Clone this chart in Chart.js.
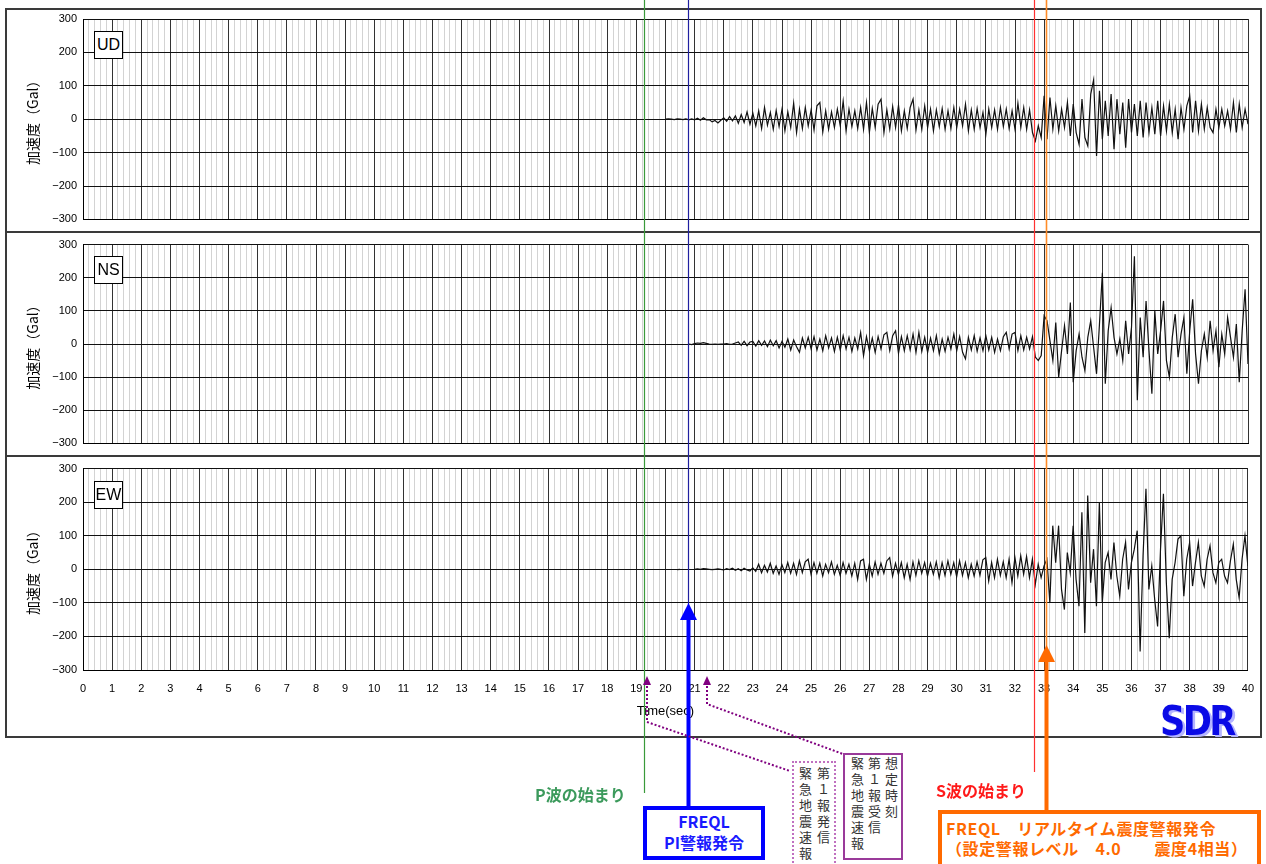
<!DOCTYPE html>
<html lang="ja">
<head>
<meta charset="utf-8">
<title>加速度波形 UD / NS / EW</title>
<script src="https://cdn.jsdelivr.net/npm/chart.js@4.4.1/dist/chart.umd.min.js"></script>
<style>
  body { margin:0; background:#fff; width:1266px; height:864px; overflow:hidden; position:relative;
         font-family:"Noto Sans CJK JP", "Liberation Sans", sans-serif; }
  .abs { position:absolute; box-sizing:border-box; }
  #frame { left:5px; top:8px; width:1257px; height:730px; border:2px solid #3a3a3a; }
  .sep { left:5px; width:1257px; height:2px; background:#3a3a3a; }
  canvas.panel { position:absolute; left:0; }
  #overlay { position:absolute; left:0; top:0; pointer-events:none; }
  .chan { left:94px; width:29px; height:28px; border:1px solid #000; background:#fff;
          font:16px "Liberation Sans", Arial, sans-serif; line-height:26px; text-align:center; }
  .evtxt { font-weight:700; font-size:16px; white-space:nowrap; }
  .vbox { writing-mode:vertical-rl; font-size:13px; color:#333; background:#fff; white-space:nowrap; }
  #logo { left:1160px; top:698px; font:bold 40px "DejaVu Sans", sans-serif; color:#0a0ae6;
          letter-spacing:-3px; transform:scaleX(0.88); transform-origin:left top;
          text-shadow:3px 2px 0 #b4b4ff; }
</style>
</head>
<body>
<div id="frame" class="abs"></div>
<div class="abs sep" style="top:231px"></div>
<div class="abs sep" style="top:455px"></div>

<canvas id="cUD" class="panel" width="1266" height="232" style="top:0"></canvas>
<canvas id="cNS" class="panel" width="1266" height="224" style="top:232px"></canvas>
<canvas id="cEW" class="panel" width="1266" height="280" style="top:456px"></canvas>

<div class="abs chan" style="top:31px">UD</div>
<div class="abs chan" style="top:256px">NS</div>
<div class="abs chan" style="top:481px">EW</div>

<div id="logo" class="abs">SDR</div>

<canvas id="overlay" width="1266" height="864"></canvas>

<div class="abs evtxt" style="left:535px; top:782px; color:#3c9a5c">P波の始まり</div>
<div class="abs evtxt" style="left:936px; top:778px; color:#ff1a1a">S波の始まり</div>

<div class="abs" style="left:643px; top:806px; width:122px; height:54px; border:4px solid #0000ff; background:#fff;
     color:#1a1aff; font-weight:700; font-size:16px; line-height:21px; text-align:center; padding-top:1px">FREQL<br>PI警報発令</div>

<div class="abs" style="left:938px; top:810px; width:323px; height:64px; border:4px solid #ff6a00; background:#fff;
     color:#ff6a00; font-weight:700; font-size:16px; line-height:20px; padding:4px 0 0 4px; letter-spacing:0.6px; white-space:nowrap">FREQL　リアルタイム震度警報発令<br>（設定警報レベル　4.0　　震度4相当）</div>

<div class="abs vbox" style="left:792px; top:761px; width:44px; height:110px; border:2px dotted #c070c0;
     line-height:18px; letter-spacing:3px; padding:4px 2px 0 0">第１報発信<br>緊急地震速報</div>
<div class="abs vbox" style="left:843px; top:753px; width:60px; height:107px; border:2px solid #9a3a9a;
     line-height:17px; letter-spacing:3px; padding:2px 1px 0 0">想定時刻<br>第１報受信<br>緊急地震速報</div>

<script>
// sampling of the traces: first sample at 20.0 s, one value every 0.1 s (Gal)
const sampleStart = 20.0;
const sampleStep = 0.1;

const udValues = [
  0, 1, 0, -1, 1, 0, -1, 1, -2, 1,
  -2, 3, -3, 4, -2, -1, -8, -4, -11, -3,
  4, -6, 8, -5, 10, -12, 14, -10, 22, -15,
  18, -20, 25, -28, 35, -18, 20, -30, 26, -22,
  30, -35, 22, -25, 48, -40, 30, -28, 35, -20,
  28, -32, 40, 50, -38, 25, -30, 22, -25, 30,
  -20, 54, -35, 30, -22, 25, -28, 35, -30, 50,
  -40, 32, -25, 45, 60, -40, 28, -30, 38, -25,
  42, -35, 25, -28, 35, 60, -32, 28, -30, 40,
  -25, 30, -35, 28, -22, 32, -30, 25, -28, 35,
  -25, 30, -20, 45, -35, 28, -30, 32, -25, 20,
  -45, 30, -25, 28, -30, 35, -22, 30, -28, 25,
  -30, 48, -25, 35, -30, 28, -40, -65, -20, -55,
  70, -60, 65, -30, 40, -35, 30, -25, 50, -50,
  45, -40, -75, 60, -55, -80, 75, 118, -110, 85,
  -60, 55, -50, 75, -90, 60, -45, 50, -85, 60,
  -40, 45, -50, 55, -55, 50, -40, 35, -45, 55,
  -50, 40, -35, 45, -40, 30, -60, 35, -30, 40,
  70, -40, 55, -35, 45, -30, 35, -25, -40, 30,
  -25, 30, -20, 25, -30, 50, -40, 45, -25, 30,
  -15
];

const nsValues = [
  null, null, null, null, null, null, null, null, 0, -2,
  1, 3, 2, 4, 2, 0, -1, 0, -1, 0,
  0, 1, -1, 0, 3, 6, -4, 8, -5, 6,
  8, -6, 10, -4, 9, -8, 12, -5, 10, -12,
  8, -10, 15, -18, 12, -8, -25, 18, -12, 20,
  -15, 22, -18, 15, -20, 25, -12, 18, -22, 20,
  -18, 25, -15, 20, -22, 18, -15, 35, -35, 22,
  -20, 18, -25, 22, -15, 28, 35, -20, 25, 40,
  -28, 22, -20, 25, -18, 30, -25, 35, -22, 20,
  -25, 18, -20, 25, -30, 15, -22, 20, -15, 30,
  -20, 22, -25, -45, 20, -18, 25, -22, 18, -20,
  25, -18, 20, -25, 15, -20, 22, 35, -15, 30,
  35, -20, 25, -18, 20, -15, 22, -40, -50, -35,
  85, 70, 10, -50, 65, -100, -20, 55, -30, 125,
  -115, -20, 30, -40, -80, 20, 70, -10, -90, 60,
  215, -120, 40, 110, 20, -30, 15, -50, 70, -30,
  50, 265, -170, 80, -40, 130, -20, -150, 100, -30,
  40, 130, -50, -100, 20, 90, -40, 30, 80, -90,
  40, 135, -30, -120, -20, 30, -40, 70, -20, 40,
  -70, 30, -30, 80, 20, -40, 60, -115, 40, 165,
  -60
];

const ewValues = [
  null, null, null, null, -1, 0, null, null, null, null,
  0, 1, 0, 2, 1, 0, -1, 0, 1, 0,
  -2, 2, -1, 3, -3, 2, -4, 3, -2, -5,
  4, -6, 15, -10, 12, -8, 18, -12, 10, -15,
  14, -10, 20, -12, 18, -15, 25, -10, 22, 30,
  -15, 20, -12, 18, -20, 15, -10, 22, -15, 12,
  -18, 20, -12, 15, -20, 18, -30, 25, 30, -30,
  15, -20, 22, -15, 18, -12, 25, 35, -20, 18,
  -15, 20, -25, 15, -30, 22, -18, 25, -12, 20,
  -20, 18, -15, 22, -25, 20, -18, 25, -15, 20,
  -22, 25, -18, 20, -25, 15, -20, 22, -18, 28,
  35, -35, 20, -25, 30, -18, 22, -25, 30, -40,
  35, -20, 40, -15, 38, -25, 30, -45, 15, -25,
  10, 30, -100, 130, 20, 130, -60, -120, 50, -10,
  130, -30, -110, 170, -190, 220, -40, 60, -110, 200,
  -100, 20, 50, -30, 80, -20, -80, 30, 80, -60,
  20, 60, 115, -245, 40, 240, -60, 10, -90, -170,
  60, 225, -40, -205, -30, 20, 90, 100, -80, 30,
  80, -50, 20, 80, -20, -50, 30, 70, -10, -40,
  20, 30, -20, -40, 25, 75, -30, -85, 30, 100,
  10
];

const yTickValues = [-300, -200, -100, 0, 100, 200, 300];
const xMin = 0, xMax = 40, xMinorStep = 0.2;

// event times (s): P arrival, FREQL PI alarm, S arrival, FREQL real-time intensity alarm
const eventNames = ['P波の始まり', 'FREQL PI警報発令', 'S波の始まり', 'FREQL リアルタイム震度警報発令'];
const eventTimes = [19.26, 20.77, 32.65, 33.07];
// earthquake early warning bulletin times (s)
const bulletinNames = ['緊急地震速報 第1報発信', '緊急地震速報 第1報受信 想定時刻'];
const bulletinTimes = [19.37, 21.42];

const isMajor = v => Math.abs(v - Math.round(v)) < 1e-6;

const yTitlePlugin = {
  id: 'yTitle',
  afterDraw(chart) {
    const { ctx, chartArea } = chart;
    ctx.save();
    ctx.translate(33, (chartArea.top + chartArea.bottom) / 2);
    ctx.rotate(-Math.PI / 2);
    ctx.font = '14px "Noto Sans CJK JP"';
    ctx.fillStyle = '#000';
    ctx.textAlign = 'center';
    ctx.textBaseline = 'middle';
    ctx.fillText('加速度（Gal）', 0, 0);
    ctx.restore();
  }
};

function makePanel(id, values, padTop, padBottom, showX) {
  const pts = values.map((v, i) => ({ x: +(sampleStart + i * sampleStep).toFixed(2), y: v }));
  return new Chart(document.getElementById(id), {
    type: 'line',
    data: { datasets: [{ data: pts, borderColor: '#111', borderWidth: 1.2, pointRadius: 0, tension: 0, spanGaps: false }] },
    options: {
      responsive: false, animation: false, events: [],
      layout: { padding: { left: 0, right: 18, top: padTop, bottom: padBottom } },
      plugins: { legend: { display: false }, tooltip: { enabled: false } },
      scales: {
        x: {
          type: 'linear', min: xMin, max: xMax,
          afterBuildTicks: s => {
            const t = [];
            for (let k = 0; k <= (xMax - xMin) / xMinorStep + 1e-6; k++) t.push({ value: +(xMin + k * xMinorStep).toFixed(2) });
            s.ticks = t;
          },
          afterFit: s => { s.height = showX ? 66 : 0; },
          ticks: {
            display: showX, autoSkip: false, maxRotation: 0, minRotation: 0, padding: 12,
            color: '#000', font: { family: '"Liberation Sans", Arial', size: 11 },
            callback: v => isMajor(v) ? String(Math.round(v)) : ''
          },
          grid: {
            drawTicks: false,
            color: c => (c.tick && isMajor(c.tick.value)) ? '#333' : '#d3d3d3',
            lineWidth: 1
          },
          border: { display: true, color: '#000' },
          title: {
            display: showX, text: 'Time(sec)', color: '#000',
            font: { family: '"Liberation Sans", Arial', size: 13 }, padding: { top: 0, bottom: 17 }
          }
        },
        y: {
          min: -300, max: 300,
          afterBuildTicks: s => { s.ticks = yTickValues.map(v => ({ value: v })); },
          afterFit: s => { s.width = 83; },
          ticks: {
            padding: 6, color: '#000', font: { family: '"Liberation Sans", Arial', size: 11 },
            callback: v => v < 0 ? '\u2212' + Math.abs(v) : String(v)
          },
          grid: { drawTicks: false, color: '#111', lineWidth: 1 },
          border: { display: true, color: '#000' }
        }
      }
    },
    plugins: [yTitlePlugin]
  });
}

const chartUD = makePanel('cUD', udValues, 19, 11, false);
const chartNS = makePanel('cNS', nsValues, 12, 10, false);
const chartEW = makePanel('cEW', ewValues, 12, 0, true);

// event marker lines and arrows drawn over the three panels, x from the shared time scale
const lineStyles = [
  { thin: '#3a9a3a', thinW: 1.2, end: 793 },
  { thin: '#2020a0', thinW: 1.2, tip: 603, base: 620, half: 8.5, thick: '#0000ff', end: 806 },
  { thin: '#ff3030', thinW: 1.2, end: 772 },
  { thin: '#ff8c28', thinW: 1.6, tip: 645, base: 662, half: 8.5, thick: '#ff6a00', end: 810 }
];
const bulletinPaths = [
  { bend: 722, to: [790, 771] },
  { bend: 704, to: [843, 754] }
];

function drawOverlay() {
  const xs = chartEW.scales.x;
  const ctx = document.getElementById('overlay').getContext('2d');
  const arrowUp = (px, tip, base, half, color) => {
    ctx.fillStyle = color;
    ctx.beginPath();
    ctx.moveTo(px, tip);
    ctx.lineTo(px + half, base);
    ctx.lineTo(px - half, base);
    ctx.closePath();
    ctx.fill();
  };
  eventTimes.forEach((t, i) => {
    const st = lineStyles[i];
    const px = Math.round(xs.getPixelForValue(t)) + 0.5;
    ctx.strokeStyle = st.thin;
    ctx.lineWidth = st.thinW;
    ctx.beginPath();
    ctx.moveTo(px, 0);
    ctx.lineTo(px, st.tip !== undefined ? st.tip + 4 : st.end);
    ctx.stroke();
    if (st.tip !== undefined) {
      arrowUp(px, st.tip, st.base, st.half, st.thick);
      ctx.strokeStyle = st.thick;
      ctx.lineWidth = 4;
      ctx.beginPath();
      ctx.moveTo(px, st.base - 1);
      ctx.lineTo(px, st.end);
      ctx.stroke();
    }
  });
  bulletinTimes.forEach((t, i) => {
    const p = bulletinPaths[i];
    const px = Math.round(xs.getPixelForValue(t));
    arrowUp(px, 676, 685, 4, '#800080');
    ctx.strokeStyle = '#800080';
    ctx.lineWidth = 2;
    ctx.setLineDash([2, 2]);
    ctx.beginPath();
    ctx.moveTo(px, 686);
    ctx.lineTo(px, p.bend);
    ctx.lineTo(p.to[0], p.to[1]);
    ctx.stroke();
    ctx.setLineDash([]);
  });
}
drawOverlay();
</script>
</body>
</html>
